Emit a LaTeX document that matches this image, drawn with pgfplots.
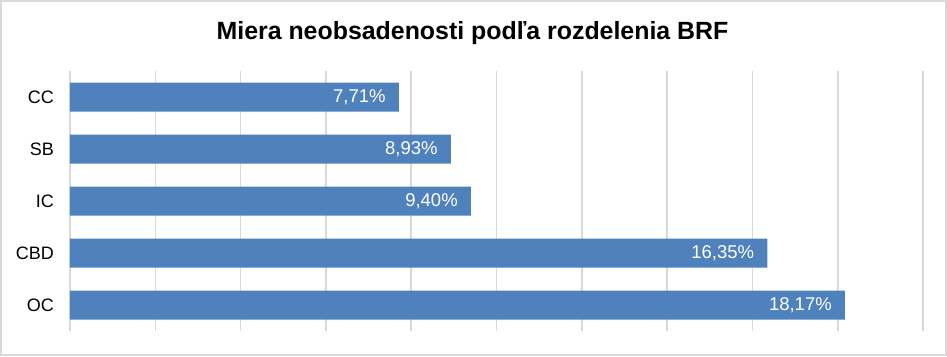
\documentclass[border=0pt]{standalone}
\usepackage{pgfplots}
\pgfplotsset{compat=1.18}
\usepackage{fontspec}
\setmainfont{Liberation Sans}
\definecolor{barblue}{HTML}{4F81BD}
\definecolor{gridgray}{HTML}{D9D9D9}
\begin{document}
\begin{tikzpicture}
\path[use as bounding box] (-70pt,-25pt) rectangle (877pt,331pt);
\draw[gridgray, line width=2pt] (-69pt,-24pt) rectangle (876pt,330pt);
\begin{axis}[
  at={(0pt,0pt)}, anchor=south west,
  scale only axis,
  width=853pt, height=260pt,
  xbar, bar width=29pt,
  xmin=0, xmax=20,
  ymin=-0.5, ymax=4.5,
  y dir=reverse,
  xtick={0,2,...,20},
  xticklabels={},
  ytick={0,1,2,3,4},
  yticklabels={CC,SB,IC,CBD,OC},
  major tick length=0pt,
  xmajorgrids,
  grid style={draw=gridgray, line width=1.6pt},
  axis line style={draw=none},
  yticklabel style={anchor=east, inner sep=0pt, xshift=-16pt, font=\fontsize{18}{21}\selectfont},
  point meta=explicit symbolic,
  nodes near coords,
  every node near coord/.append style={anchor=east, inner sep=0pt, xshift=-13pt, text=white, font=\fontsize{18.5}{21}\selectfont},
]
\addplot[fill=barblue, draw=none] coordinates {
  (7.71,0) [7,71\%]
  (8.93,1) [8,93\%]
  (9.40,2) [9,40\%]
  (16.35,3) [16,35\%]
  (18.17,4) [18,17\%]
};
\end{axis}
\node[anchor=base, inner sep=0pt, font=\bfseries\fontsize{24.9}{29}\selectfont] at (402.5pt,291pt) {Miera neobsadenosti podľa rozdelenia BRF};
\end{tikzpicture}
\end{document}
